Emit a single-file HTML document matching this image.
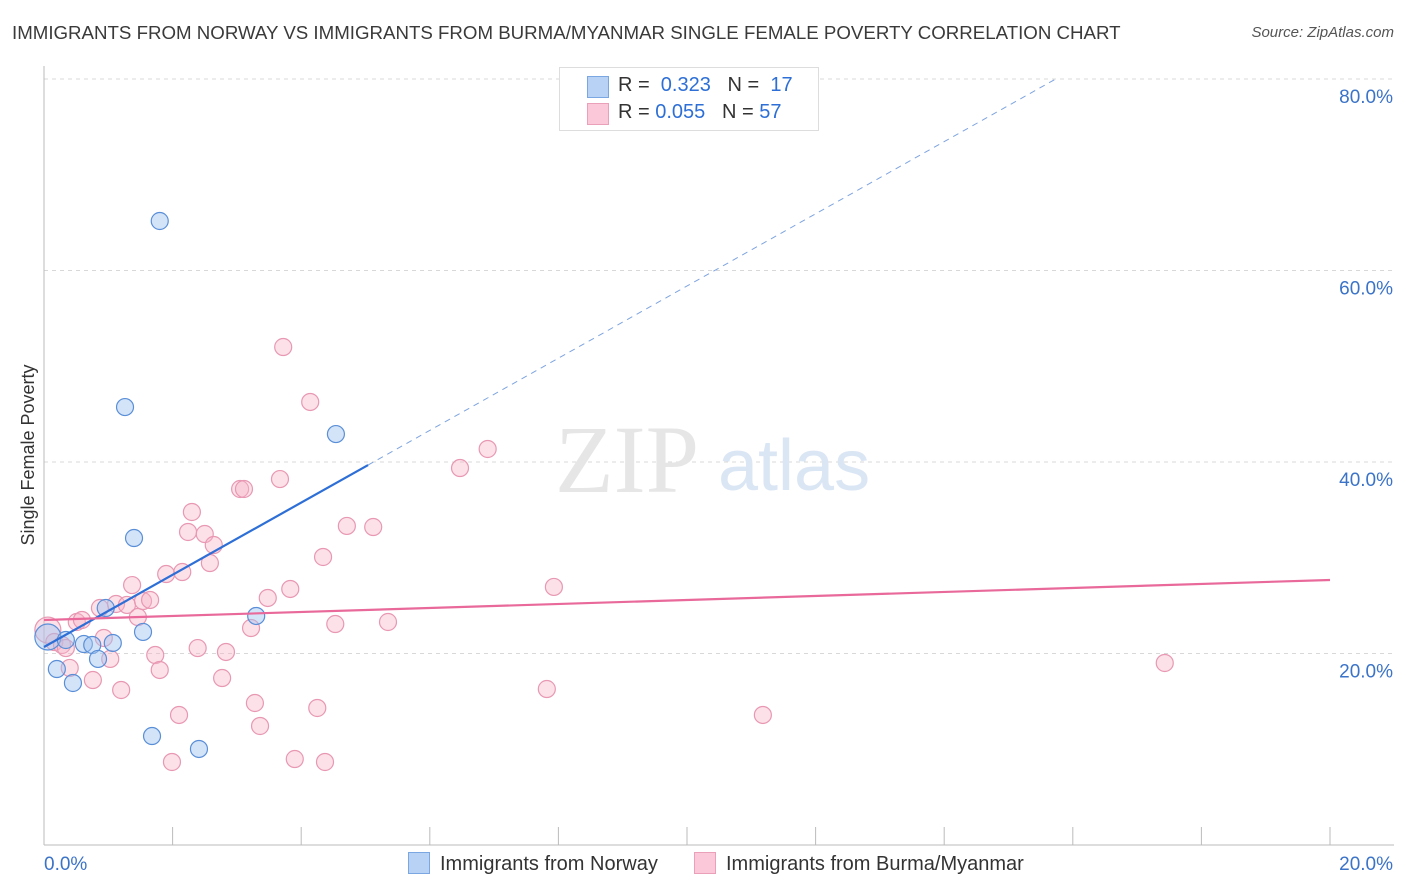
<!DOCTYPE html>
<html><head><meta charset="utf-8"><style>
body{margin:0;background:#fff;font-family:"Liberation Sans",sans-serif;}
#wrap{position:relative;width:1406px;height:892px;overflow:hidden}
.t{position:absolute;white-space:nowrap}
</style></head><body><div id="wrap">
<div class="t" style="left:12px;top:22px;font-size:18.7px;color:#3a3a3a">IMMIGRANTS FROM NORWAY VS IMMIGRANTS FROM BURMA/MYANMAR SINGLE FEMALE POVERTY CORRELATION CHART</div>
<div class="t" style="right:12px;top:24px;font-size:15px;color:#555;font-style:italic">Source: ZipAtlas.com</div>
<svg id="svg" width="1406" height="892" style="position:absolute;left:0;top:0"></svg>
</div>
<script>
const xTicks=["0.0%","20.0%"];
const yTicks=[20,40,60,80];
const norwayX=[0.06,0.20,0.34,0.45,0.62,0.75,0.84,0.96,1.07,1.26,1.40,1.54,1.68,1.80,2.41,3.30,4.54];
const norwayY=[21.72,18.38,21.41,16.92,20.99,20.89,19.43,24.75,21.10,45.74,32.06,22.25,11.38,65.17,10.03,23.92,42.92];
const burmaX=[0.06,0.16,0.28,0.34,0.40,0.51,0.59,0.76,0.87,0.93,1.03,1.12,1.20,1.29,1.37,1.46,1.54,1.65,1.73,1.80,1.90,1.99,2.10,2.15,2.24,2.30,2.39,2.50,2.58,2.64,2.77,2.83,3.05,3.11,3.22,3.28,3.36,3.48,3.67,3.72,3.83,3.90,4.14,4.25,4.34,4.37,4.53,4.71,5.12,5.35,6.47,6.90,7.82,7.93,11.18,17.43];
const burmaY=[22.45,21.20,20.89,20.57,18.49,23.29,23.50,17.23,24.75,21.62,19.43,25.17,16.19,25.07,27.15,23.81,25.48,25.59,19.84,18.28,28.30,8.67,13.58,28.51,32.69,34.78,20.57,32.48,29.45,31.33,17.44,20.16,37.18,37.18,22.66,14.83,12.43,25.80,38.22,52.01,26.74,8.98,46.27,14.31,30.08,8.67,23.08,33.32,33.21,23.29,39.37,41.36,16.29,26.95,13.58,19.01];
const norwayFit=[20.68,3.77];
const burmaFit=[23.5,0.209];
const sx=v=>44+v*1286/20, sy=v=>845-v*9.575;
const svg=document.getElementById('svg');const NS='http://www.w3.org/2000/svg';
function mk(t,a,name,inter){const e=document.createElementNS(NS,t);for(const k in a)e.setAttribute(k,a[k]);


svg.appendChild(e);return e;}
yTicks.forEach(v=>{mk('line',{x1:44,x2:1394,y1:sy(v),y2:sy(v),stroke:'#d8d8d8','stroke-dasharray':'4,4'},'gridline','false');
const t=mk('text',{x:1393,y:sy(v)+24,'text-anchor':'end','font-size':19,fill:'#3b73c8','font-family':'Liberation Sans'},'y-tick-label','false');t.textContent=v.toFixed(1)+'%';});
mk('line',{x1:44,x2:44,y1:66,y2:845,stroke:'#bbb'},'y-axis','false');
mk('line',{x1:44,x2:1394,y1:845,y2:845,stroke:'#bbb'},'x-axis','false');
for(let i=0;i<=10;i++){mk('line',{x1:sx(i*2),x2:sx(i*2),y1:827,y2:845,stroke:'#bbb'},'x-tick','false');}
xTicks.forEach((s,i)=>{const t=mk('text',{x:i?1393:44,y:870,'text-anchor':i?'end':'start','font-size':19,fill:'#3b73c8','font-family':'Liberation Sans'},'x-tick-label','false');t.textContent=s;});
const yl=mk('text',{x:34,y:455,transform:'rotate(-90 34 455)','text-anchor':'middle','font-size':18,fill:'#333','font-family':'Liberation Sans'},'y-axis-title','false');yl.textContent='Single Female Poverty';
const w1=mk('text',{x:555,y:492,'font-size':96,fill:'#e6e6e6','font-family':'Liberation Serif'},'watermark-zip','false');w1.textContent='ZIP';
const w2=mk('text',{x:718,y:490,'font-size':72,fill:'#dbe6f5','font-family':'Liberation Sans'},'watermark-atlas','false');w2.textContent='atlas';
burmaX.forEach((x,i)=>{mk('circle',{cx:sx(x),cy:sy(burmaY[i]),r:i==0?13:8.5,fill:'rgba(248,180,200,0.4)',stroke:'#e898b2','stroke-width':1.2},'burma-point','true');});
norwayX.forEach((x,i)=>{mk('circle',{cx:sx(x),cy:sy(norwayY[i]),r:i==0?13:8.5,fill:'rgba(160,195,240,0.45)',stroke:'#5a8fd8','stroke-width':1.2},'norway-point','true');});
const nEnd=5.04, nDash=(80-norwayFit[0])/norwayFit[1];
mk('line',{x1:sx(0),y1:sy(norwayFit[0]),x2:sx(nEnd),y2:sy(norwayFit[0]+norwayFit[1]*nEnd),stroke:'#2d6fd6','stroke-width':2.2},'norway-trend-line','false');
mk('line',{x1:sx(nEnd),y1:sy(norwayFit[0]+norwayFit[1]*nEnd),x2:sx(nDash),y2:sy(80),stroke:'#7ea4e0','stroke-width':1,'stroke-dasharray':'6,5'},'norway-trend-extension','false');
mk('line',{x1:sx(0),y1:sy(burmaFit[0]),x2:sx(20),y2:sy(burmaFit[0]+burmaFit[1]*20),stroke:'#e8699a','stroke-width':2.2},'burma-trend-line','false');
</script>
<div class="t" style="left:559px;top:67px;width:258px;height:62px;border:1px solid #ddd;background:#fff">
<div style="position:absolute;left:27px;top:8px;width:20px;height:20px;background:#b8d2f5;border:1px solid #7aa6e2"></div>
<div class="t" style="left:58px;top:6px;font-size:20px;color:#333">R = <span style="color:#2d6fd6">&nbsp;0.323</span>&nbsp;&nbsp;&nbsp;N = <span style="color:#2d6fd6">&nbsp;17</span></div>
<div style="position:absolute;left:27px;top:35px;width:20px;height:20px;background:#fac8d8;border:1px solid #eaa0b8"></div>
<div class="t" style="left:58px;top:33px;font-size:20px;color:#333">R = <span style="color:#2d6fd6">0.055</span>&nbsp;&nbsp;&nbsp;N = <span style="color:#2d6fd6">57</span></div>
</div>
<div class="t" style="left:408px;top:852px;font-size:20px;color:#333"><span style="display:inline-block;width:20px;height:20px;background:#b8d2f5;border:1px solid #7aa6e2;vertical-align:-4px;margin-right:10px"></span>Immigrants from Norway</div>
<div class="t" style="left:694px;top:852px;font-size:20px;color:#333"><span style="display:inline-block;width:20px;height:20px;background:#fac8d8;border:1px solid #eaa0b8;vertical-align:-4px;margin-right:10px"></span>Immigrants from Burma/Myanmar</div>
</body></html>
